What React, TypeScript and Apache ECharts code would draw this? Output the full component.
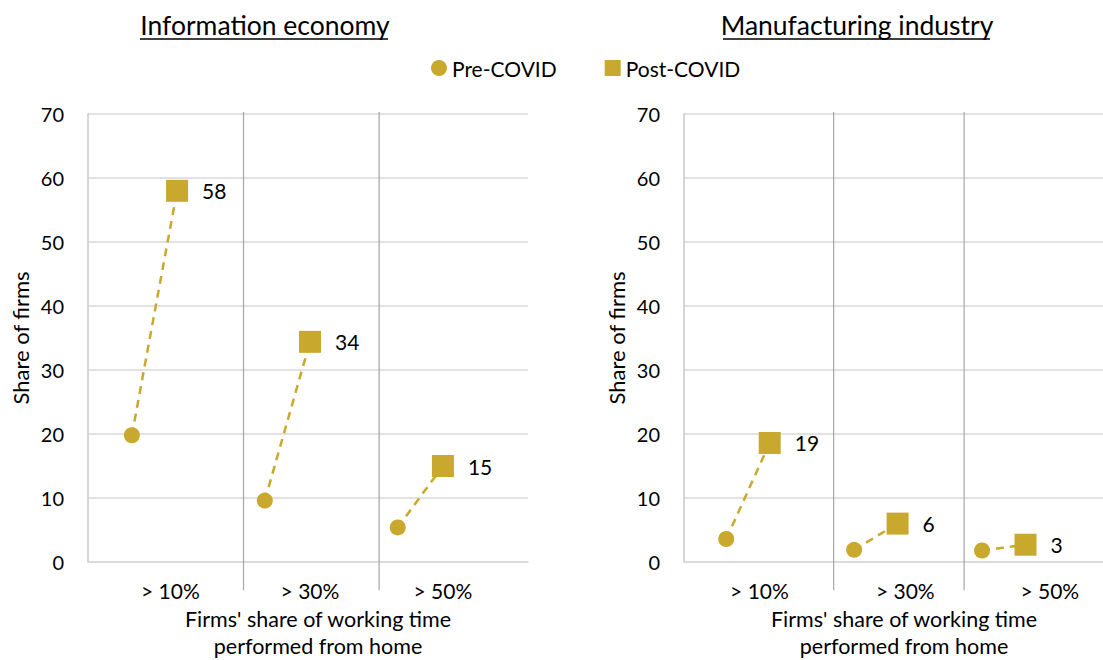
import React, { useEffect, useRef } from "react";
import * as echarts from "echarts";

// ---------- data ----------
const panelTitles = ["Information economy", "Manufacturing industry"];
const categoryLabels = ["> 10%", "> 30%", "> 50%"];
const preX = [0.33, 1.33, 2.33];
const postX = [0.67, 1.67, 2.67];
const dividerX = [1.17, 2.19];
const labelXLeft = [0.62, 1.67, 2.67];
const labelXRight = [0.59, 1.73, 2.86];
const infoPre = [19.8, 9.6, 5.4];
const infoPost = [58.0, 34.4, 15.0];
const manuPre = [3.6, 1.9, 1.8];
const manuPost = [18.6, 6.0, 2.7];
const yTicks = [0, 10, 20, 30, 40, 50, 60, 70];

const GOLD = "#C9A82E";
const FONT = "Lato";

export default function App() {
  const ref = useRef<HTMLDivElement>(null);

  useEffect(() => {
    document.body.style.margin = "0";
    const chart = echarts.init(ref.current!, null, { renderer: "svg" });

    const panels = [
      { pre: infoPre, post: infoPost, labelX: labelXLeft, left: 88, width: 440, xMax: 3.31, namePad: 20 },
      { pre: manuPre, post: manuPost, labelX: labelXRight, left: 684, width: 440, xMax: 3.44, namePad: 0 },
    ];

    const grids: any[] = [];
    const xAxes: any[] = [];
    const yAxes: any[] = [];
    const series: any[] = [];

    panels.forEach((p, i) => {
      grids.push({
        left: p.left,
        width: p.width,
        top: 114,
        height: 448,
        containLabel: false,
        outerBoundsMode: "none",
      });
      xAxes.push({
        type: "value",
        gridIndex: i,
        min: 0,
        max: p.xMax,
        splitLine: { show: false },
        axisTick: { show: false },
        axisLine: { show: true, lineStyle: { color: "#d9d9d9", width: 1.5 } },
        axisLabel: {
          customValues: p.labelX,
          formatter: (v: number) => {
            const idx = p.labelX.findIndex((x) => Math.abs(x - v) < 1e-6);
            return idx >= 0 ? categoryLabels[idx] : "";
          },
          color: "#000",
          fontFamily: FONT,
          fontSize: 21,
          margin: 18,
        },
        name: "Firms' share of working time\nperformed from home",
        nameLocation: "middle",
        nameGap: 35,
        nameTextStyle: {
          color: "#000",
          fontFamily: FONT,
          fontSize: 21.5,
          lineHeight: 27,
          padding: [0, 0, 0, p.namePad],
        },
      });
      yAxes.push({
        type: "value",
        gridIndex: i,
        min: 0,
        max: 70,
        interval: 10,
        axisLine: { show: true, lineStyle: { color: "#c8c8c8", width: 1.5 } },
        axisTick: { show: false },
        splitLine: { show: true, lineStyle: { color: "#d9d9d9", width: 1.5 } },
        axisLabel: {
          color: "#000",
          fontFamily: FONT,
          fontSize: 20,
          margin: 24,
          formatter: (v: number) => (yTicks.includes(v) ? String(v) : ""),
        },
        name: "Share of firms",
        nameLocation: "middle",
        nameGap: 57,
        nameTextStyle: { color: "#000", fontFamily: FONT, fontSize: 22 },
      });

      // divider lines
      series.push({
        type: "custom",
        xAxisIndex: i,
        yAxisIndex: i,
        silent: true,
        z: 1,
        data: dividerX.map((x) => [x, 0]),
        renderItem: (_params: any, api: any) => {
          const x = api.value(0);
          const a = api.coord([x, 70.3]);
          const b = api.coord([x, -4.4]);
          return {
            type: "line",
            shape: { x1: a[0], y1: a[1], x2: b[0], y2: b[1] },
            style: { stroke: "#a6a6a6", lineWidth: 1.2 },
          };
        },
      });

      // dashed connectors
      series.push({
        type: "custom",
        xAxisIndex: i,
        yAxisIndex: i,
        silent: true,
        z: 2,
        encode: { x: [0, 2], y: [1, 3] },
        data: p.pre.map((v, k) => [preX[k], v, postX[k], p.post[k]]),
        renderItem: (_params: any, api: any) => {
          const a = api.coord([api.value(0), api.value(1)]);
          const b = api.coord([api.value(2), api.value(3)]);
          return {
            type: "line",
            shape: { x1: a[0], y1: a[1], x2: b[0], y2: b[1] },
            style: { stroke: GOLD, lineWidth: 2.5, lineDash: [8, 6] },
          };
        },
      });

      series.push({
        name: "Pre-COVID",
        type: "scatter",
        xAxisIndex: i,
        yAxisIndex: i,
        z: 3,
        symbol: "circle",
        symbolSize: 16,
        itemStyle: { color: GOLD, opacity: 1 },
        data: p.pre.map((v, k) => [preX[k], v]),
      });
      series.push({
        name: "Post-COVID",
        type: "scatter",
        xAxisIndex: i,
        yAxisIndex: i,
        z: 3,
        symbol: "rect",
        symbolSize: 22,
        itemStyle: { color: GOLD, opacity: 1 },
        label: {
          show: true,
          position: "right",
          distance: 14,
          color: "#000",
          fontFamily: FONT,
          fontSize: 21,
          formatter: (prm: any) => String(Math.round(prm.value[1])),
        },
        data: p.post.map((v, k) => [postX[k], v]),
      });
    });

    chart.setOption({
      animation: false,
      backgroundColor: "#fff",
      title: [
        {
          text: panelTitles[0],
          left: 260,
          top: 6,
          textAlign: "center",
          textStyle: { color: "#000", fontFamily: FONT, fontSize: 26.5, fontWeight: "normal" },
        },
        {
          text: panelTitles[1],
          left: 852,
          top: 6,
          textAlign: "center",
          textStyle: { color: "#000", fontFamily: FONT, fontSize: 26.5, fontWeight: "normal" },
        },
      ],
      legend: {
        left: 426,
        top: 52,
        itemWidth: 16,
        itemHeight: 16,
        itemGap: 48,
        data: [
          { name: "Pre-COVID", icon: "circle" },
          { name: "Post-COVID", icon: "rect" },
        ],
        textStyle: { color: "#000", fontFamily: FONT, fontSize: 21, lineHeight: 22 },
      },
      graphic: [
        { type: "line", shape: { x1: 140, y1: 39, x2: 388, y2: 39 }, style: { stroke: "#000", lineWidth: 1.5 } },
        { type: "line", shape: { x1: 723, y1: 39, x2: 990, y2: 39 }, style: { stroke: "#000", lineWidth: 1.5 } },
      ],
      grid: grids,
      xAxis: xAxes,
      yAxis: yAxes,
      series,
    });

    return () => chart.dispose();
  }, []);

  return <div ref={ref} style={{ width: 1103, height: 660 }} />;
}
